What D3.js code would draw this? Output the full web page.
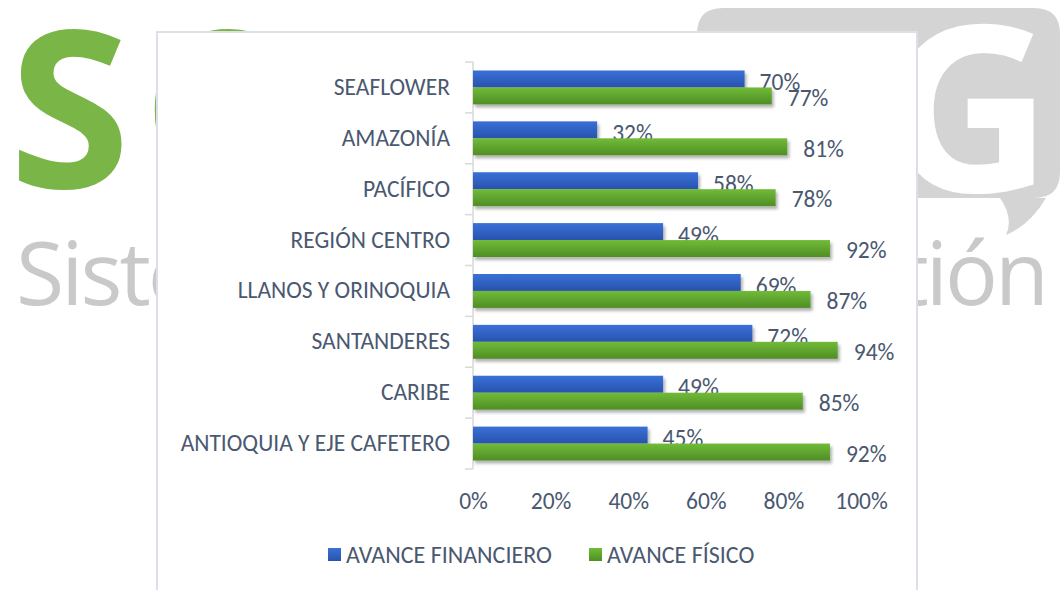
<!DOCTYPE html>
<html><head><meta charset="utf-8">
<script src="https://cdn.jsdelivr.net/npm/d3@7"></script>
<style>
html,body{margin:0;padding:0;background:#fff;}
svg{display:block;}
</style></head>
<body>
<svg id="c" width="1063" height="590"></svg>
<script>
const categories = ["SEAFLOWER","AMAZONÍA","PACÍFICO","REGIÓN CENTRO","LLANOS Y ORINOQUIA","SANTANDERES","CARIBE","ANTIOQUIA Y EJE CAFETERO"];
const financiero = [0.70,0.32,0.58,0.49,0.69,0.72,0.49,0.45];
const fisico = [0.77,0.81,0.78,0.92,0.87,0.94,0.85,0.92];
const seriesNames = ["AVANCE FINANCIERO","AVANCE FÍSICO"];
const xTicks = [0,0.2,0.4,0.6,0.8,1.0];

const svg = d3.select("#c");
const FONT = "Carlito, Lato, 'Liberation Sans', sans-serif";
const FS = 23.5;
const TXT = "#4a5870";

const defs = svg.append("defs");
function grad(id, c1, c2){
  const g = defs.append("linearGradient").attr("id",id).attr("x1",0).attr("y1",0).attr("x2",0).attr("y2",1);
  g.append("stop").attr("offset","0%").attr("stop-color",c1);
  g.append("stop").attr("offset","100%").attr("stop-color",c2);
}
grad("gBlue","#3a70d8","#2853ad");
grad("gGreen","#71bb38","#4f8e25");
const f = defs.append("filter").attr("id","sh").attr("x","-5%").attr("y","-30%").attr("width","115%").attr("height","180%");
f.append("feDropShadow").attr("dx",2).attr("dy",3).attr("stdDeviation",1.8).attr("flood-color","#000").attr("flood-opacity",0.3);

// ---- background logo ----
const bg = svg.append("g");
bg.append("text").attr("x",9).attr("y",188).attr("font-family","'Open Sans', sans-serif").attr("font-weight",700)
  .attr("font-size",220).attr("fill","#7ab547").text("S");
bg.append("text").attr("x",142).attr("y",188).attr("font-family","'Open Sans', sans-serif").attr("font-weight",700)
  .attr("font-size",220).attr("fill","#7ab547").text("C");
// speech bubble
const bx0=697, bx1=1060, by0=8, by1=198, r=26;
bg.append("path").attr("fill","#d4d4d4").attr("d",
  `M${bx0+r},${by0} L${bx1-r},${by0} Q${bx1},${by0} ${bx1},${by0+r} L${bx1},${by1-r} Q${bx1},${by1} ${bx1-r},${by1}
   L1046,${by1} Q1030,225 1006,235 Q1014,218 1000,${by1} L${bx0+r},${by1} Q${bx0},${by1} ${bx0},${by1-r} L${bx0},${by0+r} Q${bx0},${by0} ${bx0+r},${by0} Z`);
bg.append("text").attr("x",1052).attr("y",192).attr("text-anchor","end").attr("font-family","'Open Sans', sans-serif").attr("font-weight",700)
  .attr("font-size",232).attr("fill","#ffffff").text("G");
bg.append("text").attr("x",16).attr("y",305).attr("font-family","'Open Sans', sans-serif").attr("letter-spacing",-3)
  .attr("font-size",88).attr("fill","#c9c9c9").text("Sistema");
bg.append("text").attr("x",1046).attr("y",305).attr("text-anchor","end").attr("font-family","'Open Sans', sans-serif").attr("letter-spacing",-3)
  .attr("font-size",88).attr("fill","#c9c9c9").text("Gestión");

// ---- panel ----
svg.append("rect").attr("x",157).attr("y",32).attr("width",760).attr("height",580)
  .attr("fill","#fff").attr("stroke","#dbe0e8").attr("stroke-width",2);

// ---- scales ----
const x = d3.scaleLinear().domain([0,1]).range([473,861]);
const y = d3.scaleBand().domain(categories).range([62,469]).paddingInner(1/3).paddingOuter(1/6);
const bw = y.bandwidth()/2;

// axis
const yAxis = svg.append("g").attr("transform","translate(473,0)")
  .call(d3.axisLeft(y).tickSize(0).tickPadding(23));
yAxis.select(".domain").attr("stroke","#d9d9d9").attr("stroke-width",1.5).attr("d","M0,62V469");
yAxis.selectAll("text").attr("font-family",FONT).attr("font-size",FS).attr("fill",TXT);
const bounds = d3.range(categories.length+1).map(i => 62 + i*(407/categories.length));
svg.append("g").selectAll("line").data(bounds).join("line")
  .attr("x1",465).attr("x2",473).attr("y1",d=>d).attr("y2",d=>d)
  .attr("stroke","#d9d9d9").attr("stroke-width",1.5);

const xAxis = svg.append("g").attr("transform","translate(0,469)")
  .call(d3.axisBottom(x).tickValues(xTicks).tickFormat(d3.format(".0%")).tickSize(0).tickPadding(23));
xAxis.select(".domain").remove();
xAxis.selectAll("text").attr("font-family",FONT).attr("font-size",FS).attr("fill",TXT);

// bars + labels
const fmt = d3.format(".0%");
const idx = d3.range(categories.length);
svg.append("g").selectAll("rect").data(idx).join("rect")
  .attr("x",x(0)).attr("y",i=>y(categories[i])).attr("width",i=>x(financiero[i])-x(0)).attr("height",bw)
  .attr("fill","url(#gBlue)").attr("filter","url(#sh)");
svg.append("g").selectAll("text").data(idx).join("text")
  .attr("x",i=>x(financiero[i])+15).attr("y",i=>y(categories[i])+bw/2+3).attr("dy","0.35em")
  .attr("font-family",FONT).attr("font-size",FS).attr("fill",TXT).text(i=>fmt(financiero[i]));
svg.append("g").selectAll("rect").data(idx).join("rect")
  .attr("x",x(0)).attr("y",i=>y(categories[i])+bw).attr("width",i=>x(fisico[i])-x(0)).attr("height",bw)
  .attr("fill","url(#gGreen)").attr("filter","url(#sh)");
svg.append("g").selectAll("text").data(idx).join("text")
  .attr("x",i=>x(fisico[i])+16).attr("y",i=>y(categories[i])+bw*1.5+1.5).attr("dy","0.35em")
  .attr("font-family",FONT).attr("font-size",FS).attr("fill",TXT).text(i=>fmt(fisico[i]));

// legend
const legX = [328, 589];
const legCol = ["url(#gBlue)","url(#gGreen)"];
const leg = svg.append("g");
seriesNames.forEach((n,i)=>{
  leg.append("rect").attr("x",legX[i]).attr("y",548).attr("width",13).attr("height",13).attr("fill",legCol[i]);
  leg.append("text").attr("x",legX[i]+18).attr("y",555).attr("dy","0.35em")
    .attr("font-family",FONT).attr("font-size",24).attr("fill",TXT).text(n);
});
</script>
</body></html>
